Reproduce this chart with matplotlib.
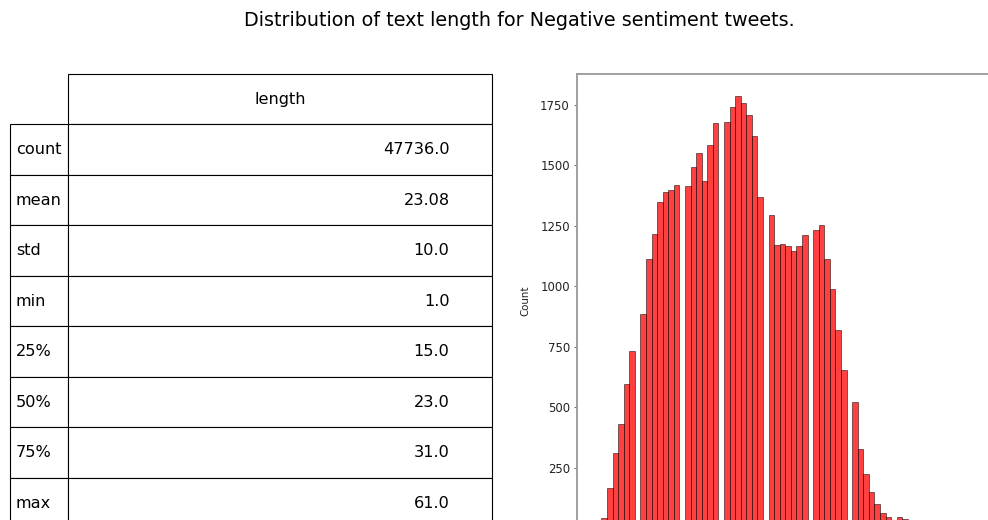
import numpy as np
import matplotlib
matplotlib.use("Agg")
import matplotlib.pyplot as plt

# Summary statistics of tweet length (negative sentiment)
stat_names = ["count", "mean", "std", "min", "25%", "50%", "75%", "max"]
stat_values = ["47736.0", "23.08", "10.0", "1.0", "15.0", "23.0", "31.0", "61.0"]
column_name = "length"

# Number of tweets for each text length (in words)
lengths = list(range(1, 62))
counts = [12, 43, 167, 312, 429, 595, 731, 886, 1113, 1217,
          1348, 1388, 1398, 1417, 1413, 1491, 1552, 1434, 1585, 1674,
          1680, 1742, 1786, 1758, 1709, 1619, 1369, 1295, 1168, 1176,
          1166, 1146, 1166, 1212, 1230, 1254, 1113, 989, 817, 654,
          521, 326, 225, 151, 99, 64, 46, 47, 38, 25,
          18, 12, 9, 6, 4, 3, 2, 2, 1, 1, 1]

W, H = 988, 520
fig = plt.figure(figsize=(W / 100, H / 100), dpi=100)

def px_axes(x0, y0, x1, y1):
    return fig.add_axes([x0 / W, 1 - y1 / H, (x1 - x0) / W, (y1 - y0) / H])

fig.suptitle("Distribution of text length for Negative sentiment tweets.",
             x=519 / W, y=1 - 21 / H, va="center", fontsize=13.75)

# Left: describe() table; the row-label column hangs left of the axes
tax = px_axes(68, 74, 492, 528.4)
tax.set_axis_off()
tbl = tax.table(cellText=[[v] for v in stat_values], colLabels=[column_name],
                cellLoc="right", colLoc="center", bbox=[0, 0, 1, 1])
row_h = tbl[1, 0].get_height()
for r, name in enumerate(stat_names, start=1):
    tbl.add_cell(r, -1, width=58 / 424, height=row_h, text=name, loc="left")
tbl.auto_set_font_size(False)
tbl.set_fontsize(11.6)
for cell in tbl.get_celld().values():
    cell.set_linewidth(0.8)

# Right: histogram of lengths
hax = px_axes(576.7, 74.3, 999.4, 528.2)
edges = np.round(np.linspace(min(lengths), max(lengths), 70), 9)
hax.hist(lengths, bins=edges, weights=counts, facecolor=(1, 0, 0, 0.75),
         edgecolor=(0, 0, 0, 0.6), linewidth=0.6)
hax.set_ylabel("Count", fontsize=7.4, labelpad=7.0, color="#222222")
hax.tick_params(labelsize=8.4, length=2.3, width=0.6, pad=2.6,
                labelcolor="#222222", color="#555555", labelbottom=False)
for sp in hax.spines.values():
    sp.set_linewidth(1.3)
    sp.set_color("#999999")
fig.canvas.draw()
for t in hax.yaxis.get_major_ticks():
    if t.get_loc() <= 0:
        t.label1.set_visible(False)

fig.savefig("out.png", dpi=100)
